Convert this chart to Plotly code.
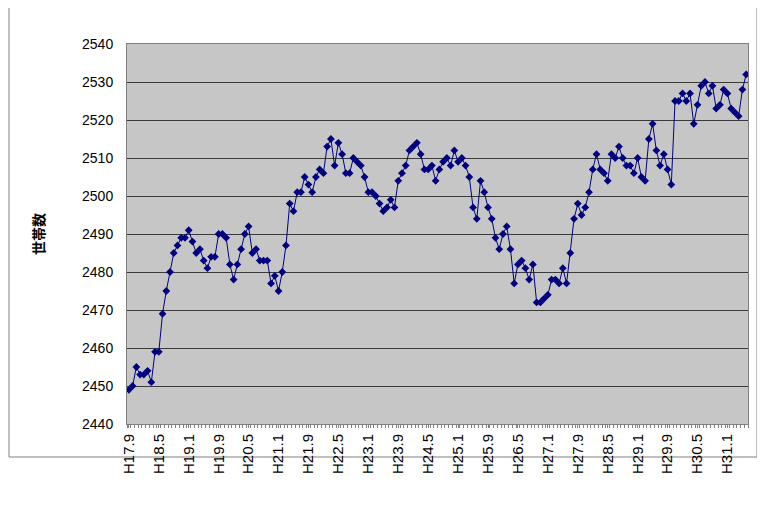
import plotly.graph_objects as go

# Monthly series from H17.9 to H31.6 (166 months)
start_year = 17
start_month = 9
households = [
    2449, 2450, 2455, 2453, 2453, 2454, 2451, 2459, 2459, 2469,
    2475, 2480, 2485, 2487, 2489, 2489, 2491, 2488, 2485, 2486,
    2483, 2481, 2484, 2484, 2490, 2490, 2489, 2482, 2478, 2482,
    2486, 2490, 2492, 2485, 2486, 2483, 2483, 2483, 2477, 2479,
    2475, 2480, 2487, 2498, 2496, 2501, 2501, 2505, 2503, 2501,
    2505, 2507, 2506, 2513, 2515, 2508, 2514, 2511, 2506, 2506,
    2510, 2509, 2508, 2505, 2501, 2501, 2500, 2498, 2496, 2497,
    2499, 2497, 2504, 2506, 2508, 2512, 2513, 2514, 2511, 2507,
    2507, 2508, 2504, 2507, 2509, 2510, 2508, 2512, 2509, 2510,
    2508, 2505, 2497, 2494, 2504, 2501, 2497, 2494, 2489, 2486,
    2490, 2492, 2486, 2477, 2482, 2483, 2481, 2478, 2482, 2472,
    2472, 2473, 2474, 2478, 2478, 2477, 2481, 2477, 2485, 2494,
    2498, 2495, 2497, 2501, 2507, 2511, 2507, 2506, 2504, 2511,
    2510, 2513, 2510, 2508, 2508, 2506, 2510, 2505, 2504, 2515,
    2519, 2512, 2508, 2511, 2507, 2503, 2525, 2525, 2527, 2525,
    2527, 2519, 2524, 2529, 2530, 2527, 2529, 2523, 2524, 2528,
    2527, 2523, 2522, 2521, 2528, 2532,
]

# Category labels (Heisei year.month)
months = []
y, m = start_year, start_month
for _ in households:
    months.append(f"H{y}.{m}")
    m += 1
    if m > 12:
        m = 1
        y += 1

label_step = 8
tick_idx = list(range(0, len(months), label_step))
tick_text = [months[i] for i in tick_idx]

y_ticks = [2440, 2450, 2460, 2470, 2480, 2490, 2500, 2510, 2520, 2530, 2540]
y_title = "<b>世帯数</b>"

idx = list(range(len(months)))

fig = go.Figure()
fig.add_trace(go.Scatter(
    x=idx, y=households, mode="lines+markers",
    line=dict(color="#000080", width=1),
    marker=dict(symbol="diamond", size=6, color="#000080"),
    text=months, hovertemplate="%{text}: %{y}<extra></extra>",
    showlegend=False,
))

# page body adds ~8px offset
L, R, T, B = 119, 17, 36, 95
W, H = 757, 511
pw, ph = W - L - R, H - T - B

fig.update_layout(
    width=W, height=H,
    margin=dict(l=L, r=R, t=T, b=B),
    paper_bgcolor="white",
    plot_bgcolor="#C6C6C6",
    font=dict(family="Liberation Sans, Arial, sans-serif", color="black"),
    xaxis=dict(
        range=[-0.5, len(months) - 0.5],
        tickmode="array", tickvals=tick_idx, ticktext=tick_text,
        tickangle=-90, tickfont=dict(size=15),
        ticks="outside", ticklen=3, tickcolor="#808080",
        minor=dict(ticks="outside", dtick=1, tick0=0.5, ticklen=3, tickcolor="#808080"),
        showgrid=False, zeroline=False,
        showline=True, linecolor="#808080", linewidth=1, mirror=True,
    ),
    yaxis=dict(
        range=[2440, 2540], tickvals=y_ticks,
        tickfont=dict(size=14),
        ticklabelstandoff=10,
        showgrid=True, gridcolor="#3a3a3a", gridwidth=1,
        zeroline=False,
        showline=True, linecolor="#808080", linewidth=1, mirror=True,
        title=dict(text=y_title, font=dict(family="Noto Sans CJK JP", size=14), standoff=34),
    ),
    shapes=[dict(
        type="rect", xref="paper", yref="paper",
        x0=(1 - L) / pw, x1=(749 - L) / pw,
        y0=(H - T - 508) / ph, y1=(H - T - 2) / ph,
        line=dict(color="#808080", width=1), fillcolor="rgba(0,0,0,0)", layer="below",
    )],
)

fig.write_html("out.html")
